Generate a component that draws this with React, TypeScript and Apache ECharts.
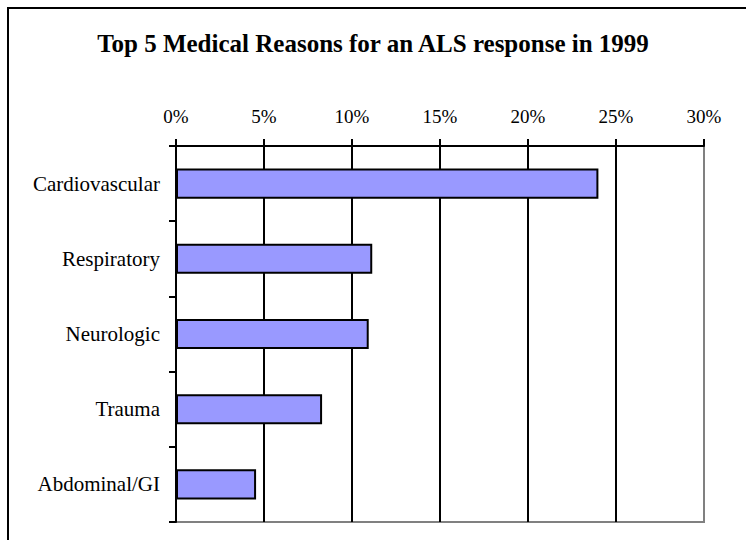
import React, { useEffect, useRef } from "react";
import * as echarts from "echarts";

const titleText = "Top 5 Medical Reasons for an ALS response in 1999";
const categories = ["Cardiovascular", "Respiratory", "Neurologic", "Trauma", "Abdominal/GI"];
const values = [24.0, 11.15, 10.95, 8.3, 4.55];
const axisMin = 0;
const axisMax = 30;
const axisStep = 5;

export default function App() {
  const ref = useRef<HTMLDivElement>(null);
  useEffect(() => {
    if (!ref.current) return;
    const chart = echarts.init(ref.current, undefined, { renderer: "svg" });
    const font = "'Liberation Serif', 'Times New Roman', serif";
    chart.setOption({
      animation: false,
      backgroundColor: "#ffffff",
      title: {
        text: titleText,
        left: "center",
        top: 26,
        textStyle: { fontFamily: font, fontWeight: "bold", fontSize: 25, color: "#000" },
      },
      graphic: [
        {
          type: "rect",
          shape: { x: 8, y: 8, width: 900, height: 700 },
          style: { fill: "none", stroke: "#000", lineWidth: 2 },
          silent: true,
        },
      ],
      grid: {
        left: 176,
        top: 146,
        right: 42,
        bottom: 18,
        show: true,
        borderColor: "#808080",
        borderWidth: 2,
        backgroundColor: "transparent",
      },
      xAxis: {
        type: "value",
        position: "top",
        min: axisMin,
        max: axisMax,
        interval: axisStep,
        axisLine: { show: true, lineStyle: { color: "#000", width: 2 } },
        axisTick: { show: true, inside: false, length: 7, lineStyle: { color: "#000", width: 2 } },
        splitLine: {
          show: true,
          lineStyle: {
            color: ["#000", "#000", "#000", "#000", "#000", "#000", "#808080"],
            width: 2,
          },
        },
        axisLabel: {
          formatter: (v: number) => v + "%",
          fontFamily: font,
          fontSize: 19,
          color: "#000",
          margin: 20,
        },
      },
      yAxis: {
        type: "category",
        data: categories,
        inverse: true,
        axisLine: { show: true, lineStyle: { color: "#000", width: 2 } },
        axisTick: { show: true, inside: false, length: 7, lineStyle: { color: "#000", width: 2 } },
        axisLabel: {
          fontFamily: font,
          fontSize: 21,
          color: "#000",
          margin: 16,
        },
      },
      series: [
        {
          type: "bar",
          data: values,
          barWidth: "40%",
          itemStyle: { color: "#9999FF", borderColor: "#000", borderWidth: 2 },
        },
      ],
    });
    return () => chart.dispose();
  }, []);
  return (
    <div
      ref={ref}
      style={{ position: "fixed", left: 0, top: 0, width: 746, height: 540 }}
    />
  );
}
